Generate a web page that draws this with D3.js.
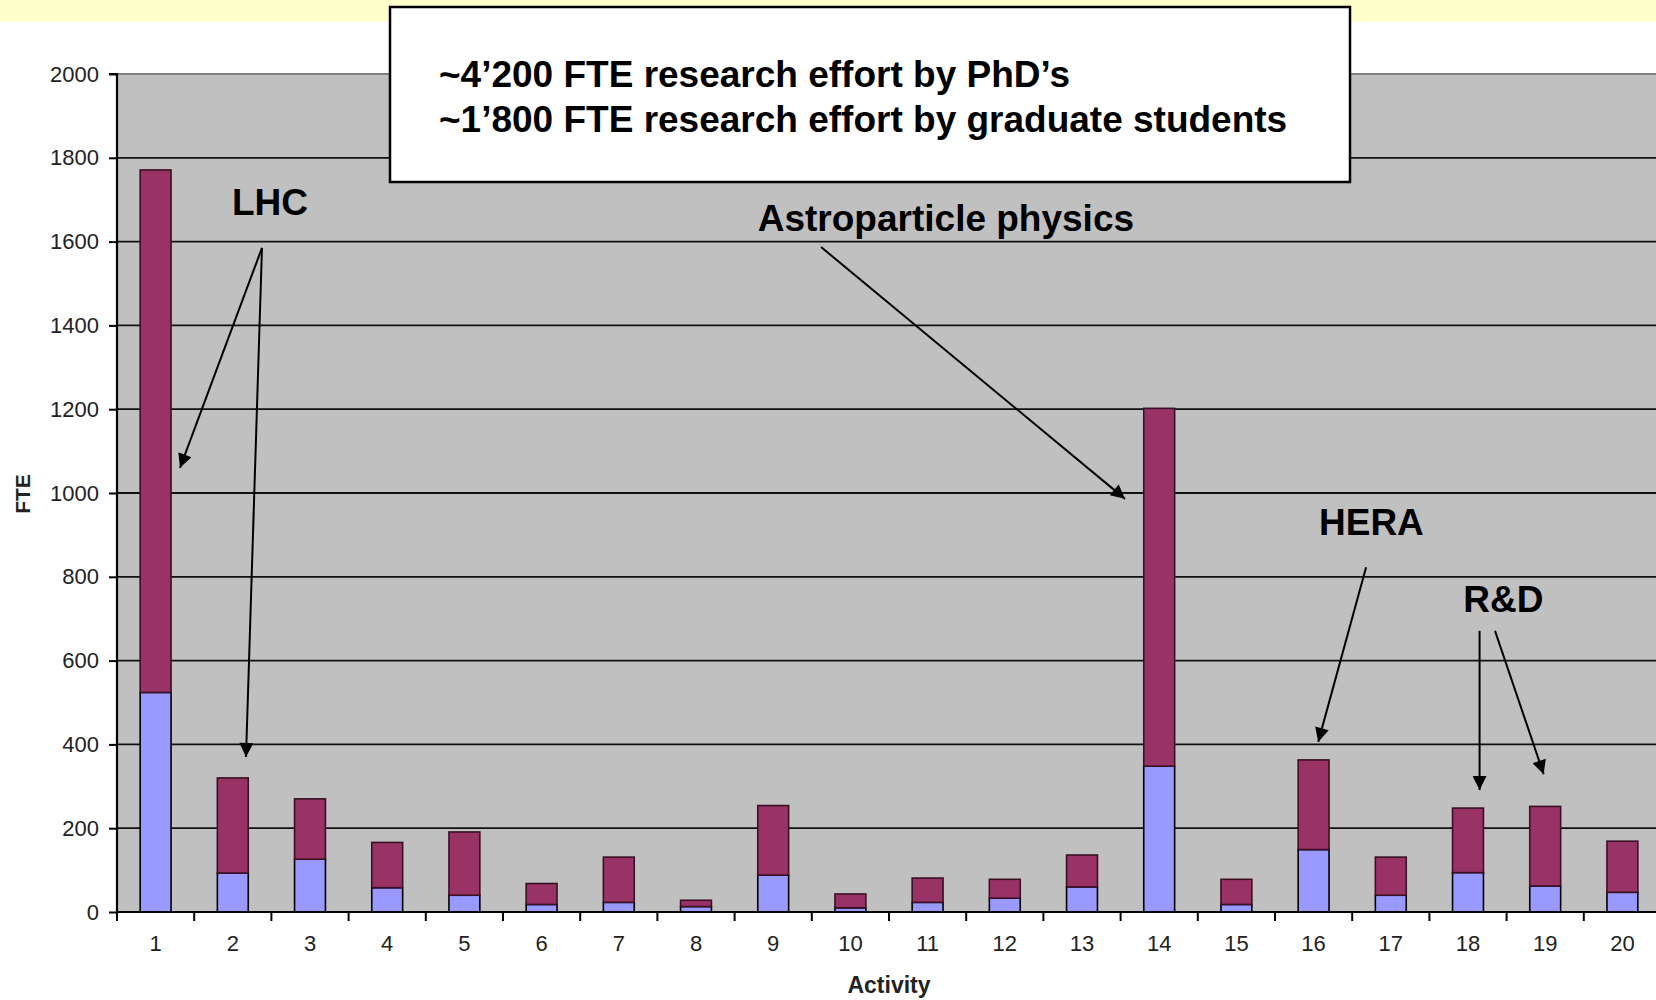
<!DOCTYPE html>
<html>
<head>
<meta charset="utf-8">
<script src="https://cdn.jsdelivr.net/npm/d3@7"></script>
<style>
  html, body { margin: 0; padding: 0; background: #fff; }
  svg { display: block; }
  text { font-family: Arial, "Liberation Sans", sans-serif; }
</style>
</head>
<body>
<svg id="chart" width="1656" height="1000"></svg>
<script>
// ---- data ----
const categories = ["1","2","3","4","5","6","7","8","9","10","11","12","13","14","15","16","17","18","19","20"];
const students = [524, 93, 126, 58, 40, 18, 23, 13, 88, 10, 23, 33, 60, 348, 18, 149, 40, 94, 62, 47];
const phds     = [1247, 227, 144, 108, 151, 50, 108, 15, 166, 33, 58, 45, 76, 854, 60, 214, 91, 154, 190, 122];
const yTicks = [0, 200, 400, 600, 800, 1000, 1200, 1400, 1600, 1800, 2000];
const boxLines = ["~4\u2019200 FTE research effort by PhD\u2019s", "~1\u2019800 FTE research effort by graduate students"];
// annotation labels and arrows in data units (category position, FTE)
const labels = [
  {text: "LHC", c: 1.99, v: 1663},
  {text: "Astroparticle physics", c: 8.80, v: 1625},
  {text: "HERA", c: 16.07, v: 900},
  {text: "R&D", c: 17.94, v: 716}
];
const arrows = [
  {c0: 2.378, v0: 1585, c1: 1.316, v1: 1060},
  {c0: 2.378, v0: 1585, c1: 2.171, v1: 370},
  {c0: 9.62, v0: 1587, c1: 13.557, v1: 986},
  {c0: 16.68, v0: 823, c1: 16.06, v1: 406},
  {c0: 18.15, v0: 671, c1: 18.15, v1: 291},
  {c0: 18.35, v0: 671, c1: 18.98, v1: 329}
];

// ---- layout ----
const W = 1656, H = 1000;
const mLeft = 117, mTop = 74, mBottom = 912;
const step = 77.2;
const mRight = mLeft + step * categories.length;

const svg = d3.select("#chart");

// yellow band at top
svg.append("rect").attr("x", 0).attr("y", 0).attr("width", W).attr("height", 21.7).attr("fill", "#FFFFCC");

const x = d3.scaleBand().domain(categories).range([mLeft, mRight]).paddingInner(0.6).paddingOuter(0.3);
const xc = d3.scaleLinear().domain([0.5, categories.length + 0.5]).range([mLeft, mRight]);
const y = d3.scaleLinear().domain([0, 2000]).range([mBottom, mTop]);

// plot area
svg.append("rect").attr("x", mLeft).attr("y", mTop).attr("width", mRight - mLeft).attr("height", mBottom - mTop).attr("fill", "#C0C0C0");
svg.append("line").attr("x1", mLeft).attr("x2", mRight).attr("y1", mTop).attr("y2", mTop).attr("stroke", "#808080").attr("stroke-width", 2);

// gridlines
svg.append("g").selectAll("line").data(yTicks.filter(d => d > 0 && d < 2000)).join("line")
  .attr("x1", mLeft).attr("x2", mRight).attr("y1", d => y(d)).attr("y2", d => y(d))
  .attr("stroke", "#111").attr("stroke-width", 1.8);

// stacked bars
const table = categories.map((c, i) => ({cat: c, students: students[i], phds: phds[i]}));
const stack = d3.stack().keys(["students", "phds"])(table);
const colors = {students: "#9999FF", phds: "#993366"};
const strokes = {students: "#000", phds: "#3a1025"};
svg.append("g").selectAll("g").data(stack).join("g")
  .attr("fill", s => colors[s.key]).attr("stroke", s => strokes[s.key]).attr("stroke-width", 1.6)
  .selectAll("rect").data(s => s).join("rect")
  .attr("x", d => x(d.data.cat)).attr("width", x.bandwidth())
  .attr("y", d => y(d[1])).attr("height", d => y(d[0]) - y(d[1]));

// y axis
const yAxis = d3.axisLeft(y).tickValues(yTicks).tickSize(8).tickPadding(10).tickFormat(d3.format("d"));
const gy = svg.append("g").attr("transform", `translate(${mLeft},0)`).call(yAxis);
gy.select(".domain").attr("stroke", "#000").attr("stroke-width", 2.2).attr("d", `M-8,${mTop}H0V${mBottom}`);
gy.selectAll(".tick line").attr("stroke", "#000").attr("stroke-width", 2);
gy.selectAll(".tick text").attr("font-size", 22).attr("fill", "#222").style("font-family", "Arial, 'Liberation Sans', sans-serif");

// x axis
const xAxis = d3.axisBottom(x).tickSize(0).tickPadding(23);
const gx = svg.append("g").attr("transform", `translate(0,${mBottom})`).call(xAxis);
gx.select(".domain").attr("stroke", "#000").attr("stroke-width", 2.2).attr("d", `M${mLeft},0H${mRight}`);
gx.selectAll(".tick text").attr("font-size", 22).attr("fill", "#222").style("font-family", "Arial, 'Liberation Sans', sans-serif");
svg.append("g").selectAll("line").data(d3.range(categories.length + 1)).join("line")
  .attr("x1", i => xc(i + 0.5)).attr("x2", i => xc(i + 0.5))
  .attr("y1", mBottom).attr("y2", mBottom + 9).attr("stroke", "#000").attr("stroke-width", 2);

// axis titles
svg.append("text").attr("x", 889).attr("y", 993).attr("text-anchor", "middle")
  .attr("font-size", 23).attr("font-weight", "bold").attr("fill", "#222").text("Activity");
svg.append("text").attr("transform", "translate(30,494) rotate(-90)").attr("text-anchor", "middle")
  .attr("font-size", 21).attr("font-weight", "bold").attr("fill", "#222").text("FTE");

// arrow marker
const defs = svg.append("defs");
defs.append("marker").attr("id", "ah").attr("viewBox", "0 0 10 10").attr("refX", 10).attr("refY", 5)
  .attr("markerWidth", 17).attr("markerHeight", 14).attr("markerUnits", "userSpaceOnUse").attr("orient", "auto")
  .append("path").attr("d", "M0,0L10,5L0,10Z").attr("fill", "#000");

svg.append("g").selectAll("line").data(arrows).join("line")
  .attr("x1", d => xc(d.c0)).attr("y1", d => y(d.v0)).attr("x2", d => xc(d.c1)).attr("y2", d => y(d.v1))
  .attr("stroke", "#000").attr("stroke-width", 2).attr("marker-end", "url(#ah)");

svg.append("g").selectAll("text").data(labels).join("text")
  .attr("x", d => xc(d.c)).attr("y", d => y(d.v))
  .attr("font-size", 37).attr("font-weight", "bold").attr("fill", "#000").text(d => d.text);

// text box
svg.append("rect").attr("x", 390).attr("y", 7).attr("width", 960).attr("height", 175)
  .attr("fill", "#fff").attr("stroke", "#000").attr("stroke-width", 2.5);
svg.append("g").selectAll("text").data(boxLines).join("text")
  .attr("x", 439).attr("y", (d, i) => 87 + i * 45)
  .attr("font-size", 37).attr("font-weight", "bold").attr("fill", "#000").text(d => d);
</script>
</body>
</html>
